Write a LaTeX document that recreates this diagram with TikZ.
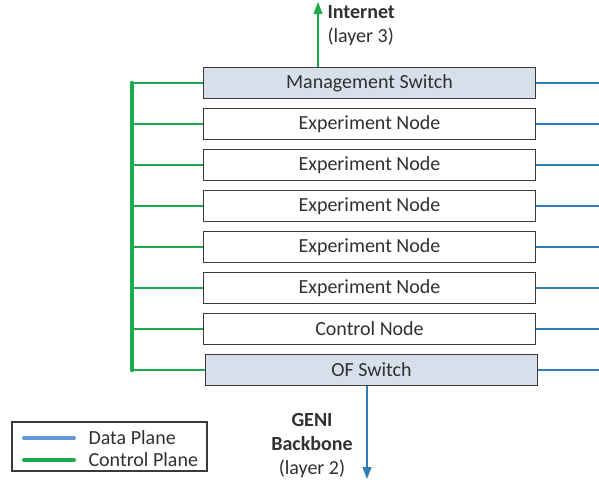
\documentclass[tikz,border=0pt]{standalone}
\usepackage{fontspec}
\setmainfont{Carlito}
\usetikzlibrary{arrows.meta}

\definecolor{boxblue}{HTML}{D6DFEA}
\definecolor{boxline}{HTML}{3A3A3A}
\definecolor{textgray}{HTML}{303030}
\definecolor{ctrlgreen}{HTML}{1DAA4E}
\definecolor{datablue}{HTML}{2F7DB3}
\definecolor{legendblue}{HTML}{6598D6}

\tikzstyle{plain_box} = [rectangle, minimum width=332pt, minimum height=31pt, text centered, draw=boxline, line width=1.3pt, text=textgray]
\tikzstyle{switch_box} = [plain_box, fill=boxblue]
\tikzstyle{data_line} = [draw=datablue, line width=1.2pt]
\tikzstyle{ctrl_line} = [draw=ctrlgreen, line width=1.2pt]
\tikzstyle{ctrl_bus} = [draw=ctrlgreen, line width=4.5pt, line cap=round]
\tikzstyle{uplink} = [ctrl_line, -{Triangle[width=9pt,length=12pt]}]
\tikzstyle{downlink} = [data_line, -{Triangle[width=9pt,length=12pt]}]
\tikzstyle{legend_line} = [line width=4pt, line cap=round]

\begin{document}
\begin{tikzpicture}[x=1pt, y=-1pt, node distance=41pt, font=\fontsize{20}{24}\selectfont]
        \useasboundingbox (0,0) rectangle (599,479);

        \node (mgmt) [switch_box] at (369.5,83) {Management Switch};
        \node (exp_1) [plain_box, below of=mgmt] {Experiment Node};
        \node (exp_2) [plain_box, below of=exp_1] {Experiment Node};
        \node (exp_3) [plain_box, below of=exp_2] {Experiment Node};
        \node (exp_4) [plain_box, below of=exp_3] {Experiment Node};
        \node (exp_5) [plain_box, below of=exp_4] {Experiment Node};
        \node (control) [plain_box, below of=exp_5] {Control Node};
        \node (of_switch) [switch_box, below of=control, xshift=2pt] {OF Switch};

        % control plane bus on the left
        \coordinate (bus_top) at (132,83);
        \coordinate (bus_bottom) at (132,370);
        \draw [ctrl_bus] (bus_top) -- (bus_bottom);
        \draw [ctrl_line] (bus_top |- mgmt.west) -- (mgmt.west);
        \draw [ctrl_line] (bus_top |- exp_1.west) -- (exp_1.west);
        \draw [ctrl_line] (bus_top |- exp_2.west) -- (exp_2.west);
        \draw [ctrl_line] (bus_top |- exp_3.west) -- (exp_3.west);
        \draw [ctrl_line] (bus_top |- exp_4.west) -- (exp_4.west);
        \draw [ctrl_line] (bus_top |- exp_5.west) -- (exp_5.west);
        \draw [ctrl_line] (bus_top |- control.west) -- (control.west);
        \draw [ctrl_line] (bus_top |- of_switch.west) -- (of_switch.west);

        % data plane links on the right
        \coordinate (right_edge) at (599,0);
        \draw [data_line] (mgmt.east) -- (mgmt.east -| right_edge);
        \draw [data_line] (exp_1.east) -- (exp_1.east -| right_edge);
        \draw [data_line] (exp_2.east) -- (exp_2.east -| right_edge);
        \draw [data_line] (exp_3.east) -- (exp_3.east -| right_edge);
        \draw [data_line] (exp_4.east) -- (exp_4.east -| right_edge);
        \draw [data_line] (exp_5.east) -- (exp_5.east -| right_edge);
        \draw [data_line] (control.east) -- (control.east -| right_edge);
        \draw [data_line] (of_switch.east) -- (of_switch.east -| right_edge);

        % uplinks
        \coordinate (internet) at (318,2);
        \draw [uplink] (internet |- mgmt.north) -- (internet);
        \node (internet_label) [anchor=west, align=left, text=textgray] at (324,26) {\textbf{Internet}\\(layer 3)};

        \coordinate (backbone) at (367,479);
        \draw [downlink] (backbone |- of_switch.south) -- (backbone);
        \node (backbone_label) [align=center, text=textgray] at (312,446) {\textbf{GENI}\\\textbf{Backbone}\\(layer 2)};

        % legend
        \draw [draw=boxline, line width=1.2pt] (12,422) rectangle (207,471);
        \coordinate (data_start) at (24,438);
        \coordinate (data_end) at (74,438);
        \coordinate (ctrl_start) at (24,460);
        \coordinate (ctrl_end) at (74,460);
        \draw [legend_line, legendblue] (data_start) -- (data_end);
        \draw [legend_line, ctrlgreen] (ctrl_start) -- (ctrl_end);
        \node (data_label) [anchor=west, text=textgray] at (85,438) {Data Plane};
        \node (ctrl_label) [anchor=west, text=textgray] at (85,460) {Control Plane};
    \end{tikzpicture}
\end{document}
